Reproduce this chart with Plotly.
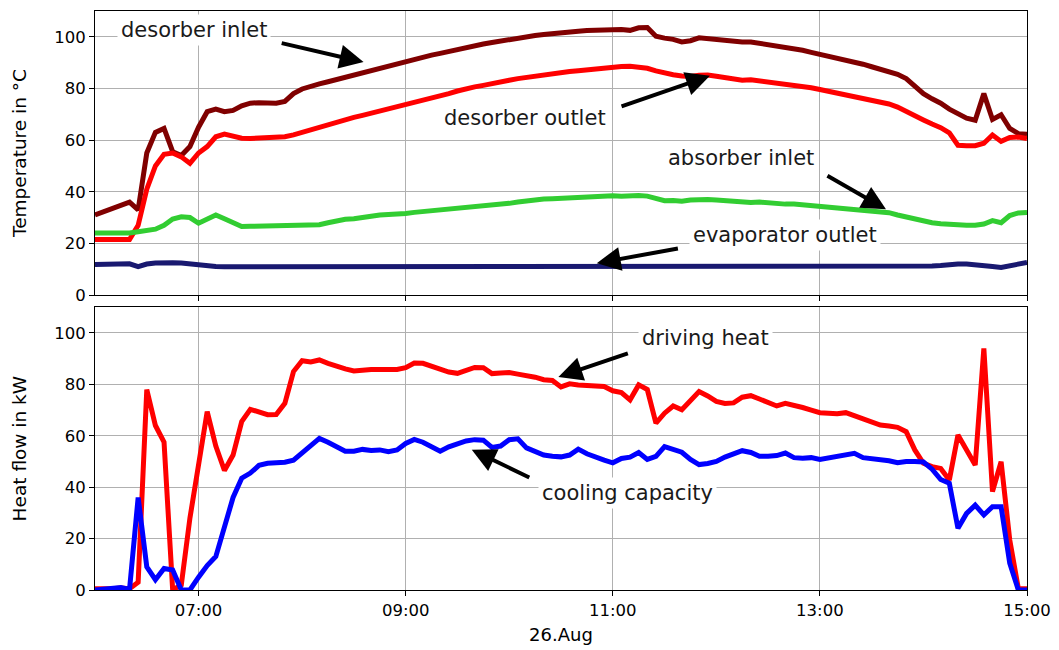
import pandas as pd
import plotly.graph_objects as go
from plotly.subplots import make_subplots

# ---- data (5-minute samples from 06:00 to 15:00 on 26 Aug) ----
times = pd.date_range("2019-08-26 06:00", "2019-08-26 15:00", freq="5min")

desorber_inlet = [
    31, 32.2, 33.5, 34.8, 36, 33, 55, 63, 64.5, 55.5,
    54, 57.5, 65, 71, 72, 71, 71.5, 73.3, 74.3, 74.5,
    74.3, 74.3, 75, 78, 79.8, 81, 81.8, 82.6, 83.5, 84.4,
    85.3, 86.2, 87.1, 88, 88.8, 89.6, 90.3, 91.3, 92.2, 92.9,
    93.6, 94.4, 95.2, 96, 96.6, 97.2, 97.8, 98.4, 99, 99.5,
    100, 100.5, 100.9, 101.3, 101.6, 101.9, 102.2, 102.4, 102.6, 102.8,
    103, 102.8, 102.5, 103.5, 103.6, 100.2, 99.5, 99, 98, 98.5,
    99.6, 99.3, 98.8, 98.3, 98.1, 98, 98, 97.5, 96.8, 96.2,
    95.8, 95.3, 94.8, 94, 93.3, 92.6, 91.9, 91.1, 90.3, 89.4,
    88.4, 87.4, 86.5, 85.5, 83.8, 81, 78, 76, 74.3, 72,
    70, 68.5, 67.7, 78, 68, 69.8, 64.5, 62.5, 62.3,
]
desorber_outlet = [
    21.5, 21.5, 21.5, 21.5, 21.5, 27, 41, 50, 54.5, 55,
    53.5, 51, 55, 57.5, 61.3, 62.3, 61.5, 60.7, 60.6, 60.8,
    60.9, 61, 61.3, 62, 63, 64, 65, 66, 67.2, 68,
    68.8, 69.6, 70.4, 71.3, 72.2, 73, 74, 74.8, 75.4, 76,
    77, 78, 79, 80, 80.6, 81.2, 82, 82.6, 83.2, 83.8,
    84.3, 84.9, 85.3, 85.7, 86.2, 86.6, 86.9, 87.3, 87.7, 88,
    88.4, 88.5, 88.6, 88.3, 87.8, 86.8, 85.8, 85.3, 84.8, 84.6,
    85.1, 85.2, 84.7, 84.2, 83.7, 83.2, 83.4, 83, 82.5, 82,
    81.7, 81.2, 80.8, 80.3, 79.6, 78.9, 78.3, 77.6, 77, 76.3,
    75.6, 74.8, 74, 72.8, 71.3, 69.6, 67.8, 66.2, 64.8, 62.8,
    58, 57.8, 57.8, 58.8, 62, 59.5, 61, 61.2, 60.6,
]
absorber_inlet = [
    24, 24, 24, 24, 24, 24.5, 25, 25.5, 27, 29.4,
    30.3, 30, 27.8, 29.3, 31, 29.5, 27.8, 26.5, 26.6, 26.7,
    26.7, 26.6, 26.7, 26.8, 26.9, 27, 27.2, 28, 28.8, 29.3,
    29.5, 29.8, 30.5, 31, 31.1, 31.3, 31.6, 32, 32.3, 32.8,
    33.2, 33.4, 33.5, 33.7, 34, 34.6, 34.6, 35.2, 35.5, 36,
    36.5, 36.9, 37.2, 37.3, 37.5, 37.6, 37.9, 38, 38.2, 38.3,
    38.4, 38.2, 38.5, 38.5, 38.3, 37.3, 36.5, 36.6, 36.3, 36.8,
    37.1, 37, 36.8, 36.5, 36.1, 35.8, 35.8, 36, 35.6, 35.3,
    35.2, 35.2, 34.9, 34.5, 34.1, 33.8, 33.5, 33.3, 33.1, 33,
    32.7, 32.2, 31.9, 31, 30.3, 29.3, 28.5, 28, 27.6, 27.3,
    27.1, 27, 27, 27.5, 28.8, 28, 30.8, 31.8, 32,
]
evaporator_outlet = [
    11.8, 11.9, 12, 12.1, 12.1, 11, 12, 12.4, 12.6, 12.5,
    12.4, 12, 11.5, 11.2, 11, 10.9, 10.9, 11, 11, 11,
    11.1, 11.1, 11.2, 11.2, 11.2, 11.1, 11.1, 11, 11, 11,
    11, 11, 11, 11, 11, 11, 11, 11, 11, 11,
    11, 11, 11, 11, 11, 11, 11, 11, 11, 11,
    11, 11, 11, 11, 11, 11, 11, 11, 11, 11,
    11, 11, 11, 10.9, 10.9, 10.8, 10.8, 10.8, 10.9, 10.9,
    10.9, 10.9, 11, 11, 11, 11, 11, 11, 11, 11,
    11, 11, 11, 11, 11, 11, 11, 11, 11, 11,
    11, 11, 11, 11, 11, 11, 11.1, 11.2, 11.4, 11.8,
    12, 12, 11.8, 11.5, 11, 10.7, 11.3, 12, 12.6,
]
driving_heat = [
    0.5, 0.3, 0.5, 0.8, 0.5, 3, 78, 64, 57.5, 0,
    2, 28, 50, 69.4, 56, 46.5, 52.5, 65.5, 70.3, 69.4,
    68.2, 68.3, 72.6, 85, 89.2, 88.7, 89.5, 88.2, 86.9, 86,
    85.2, 85.6, 85.8, 85.8, 85.6, 85.8, 86.5, 88.3, 88.2, 87,
    85.9, 84.8, 84.3, 85.3, 86.6, 86.5, 84.2, 84.4, 84.6, 84,
    83.5, 82.8, 81.8, 81.5, 79, 80.2, 79.8, 79.6, 79.4, 79.2,
    77.5, 76.8, 74, 79.8, 78, 64.9, 68.8, 71.6, 70.1, 73.5,
    77.2, 75.5, 73.4, 72.6, 72.8, 75, 75.6, 74.3, 72.8, 71.6,
    72.6, 72, 71, 70, 69, 68.8, 68.6, 69, 67.8, 66.1,
    65, 64.2, 63.8, 63.3, 61.6, 54.5, 49.3, 48, 47.3, 42.8,
    60.3, 54.5, 48.6, 94, 38.3, 49.9, 19.5, 0.5, 0.5,
]
cooling_capacity = [
    0, 0.3, 0.5, 1, 0.2, 36, 9, 4, 8.4, 7.8,
    0, 0, 5, 9.5, 13, 24, 36, 43.5, 45.5, 48.5,
    49.3, 49.5, 49.7, 50.5, 53.5, 56.5, 59, 57.5, 55.5, 54,
    54, 54.7, 54.3, 54.5, 53.8, 54.5, 57, 58.6, 57.5, 56,
    54, 55.7, 57, 58, 58.5, 58.3, 55.5, 56, 58.5, 58.8,
    55.3, 54, 52.5, 52, 51.8, 52.5, 54.8, 53, 51.5, 50.5,
    49.5, 51.2, 51.7, 53.5, 50.8, 52, 55.8, 54.8, 53.6, 50.8,
    48.8, 49.2, 50, 51.7, 53, 54.2, 53.5, 52, 52, 52.3,
    53.3, 51.5, 51.3, 51.5, 50.8, 51.3, 52, 52.7, 53.2, 51.5,
    51.2, 50.8, 50.3, 49.5, 50, 50, 49.8, 47, 43, 41.5,
    24, 29.8, 33, 29.2, 32.4, 32.4, 10.4, 0, 0,
]

x_ticks = ["2019-08-26 07:00", "2019-08-26 09:00", "2019-08-26 11:00",
           "2019-08-26 13:00", "2019-08-26 15:00"]
x_range = ["2019-08-26 06:00", "2019-08-26 15:00"]
y_ticks = [0, 20, 40, 60, 80, 100]

# annotations: (text, text_x, text_y, tail_x, tail_y, tip_x, tip_y, row)
labels = [
    ("desorber inlet", "2019-08-26 06:57:36", 102.6,
     "2019-08-26 07:47:18", 97.7, "2019-08-26 08:35:36", 90.2, 1),
    ("desorber outlet", "2019-08-26 10:09:12", 68.4,
     "2019-08-26 11:04:12", 72.9, "2019-08-26 11:56:18", 84.9, 1),
    ("absorber inlet", "2019-08-26 12:14:18", 52.9,
     "2019-08-26 13:03:30", 46.5, "2019-08-26 13:38:18", 33.2, 1),
    ("evaporator outlet", "2019-08-26 12:39:42", 23.2,
     "2019-08-26 11:38:36", 18.1, "2019-08-26 10:50:42", 12.3, 1),
    ("driving heat", "2019-08-26 11:54:00", 98.1,
     "2019-08-26 11:09:36", 92.3, "2019-08-26 10:28:30", 82.9, 2),
    ("cooling capacity", "2019-08-26 11:08:48", 37.7,
     "2019-08-26 10:12:30", 43.5, "2019-08-26 09:38:18", 54.6, 2),
]

FONT = "DejaVu Sans"
fig = make_subplots(rows=2, cols=1, shared_xaxes=True)

lw = 5
fig.add_trace(go.Scatter(x=times, y=desorber_inlet, mode="lines",
                         line=dict(color="#800000", width=lw)), row=1, col=1)
fig.add_trace(go.Scatter(x=times, y=desorber_outlet, mode="lines",
                         line=dict(color="#ff0000", width=lw)), row=1, col=1)
fig.add_trace(go.Scatter(x=times, y=absorber_inlet, mode="lines",
                         line=dict(color="#32cd32", width=lw)), row=1, col=1)
fig.add_trace(go.Scatter(x=times, y=evaporator_outlet, mode="lines",
                         line=dict(color="#191970", width=lw)), row=1, col=1)
fig.add_trace(go.Scatter(x=times, y=driving_heat, mode="lines",
                         line=dict(color="#ff0000", width=lw)), row=2, col=1)
fig.add_trace(go.Scatter(x=times, y=cooling_capacity, mode="lines",
                         line=dict(color="#0000ff", width=lw)), row=2, col=1)

axis_common = dict(showline=True, linecolor="black", linewidth=1, mirror=True,
                   ticks="outside", ticklen=5, tickcolor="black",
                   showgrid=True, gridcolor="#b0b0b0", gridwidth=1,
                   zeroline=False, tickfont=dict(family=FONT, size=16.5, color="black"))

fig.update_xaxes(**axis_common, type="date", range=x_range, tickvals=x_ticks,
                 tickformat="%H:%M")
fig.update_xaxes(showticklabels=False, row=1, col=1)
fig.update_xaxes(title=dict(text="26.Aug", font=dict(family=FONT, size=18, color="black"),
                            standoff=9), row=2, col=1)
fig.update_yaxes(**axis_common, range=[0, 110], tickvals=y_ticks)
fig.update_yaxes(title=dict(text="Temperature in °C", font=dict(family=FONT, size=18.5, color="black"),
                            standoff=22), row=1, col=1)
fig.update_yaxes(title=dict(text="Heat flow in kW", font=dict(family=FONT, size=18.5, color="black"),
                            standoff=22), row=2, col=1)

fig.layout.yaxis.domain = [0.5095, 1.0]
fig.layout.yaxis2.domain = [0.0, 0.4883]

for text, tx, ty, ax, ay, hx, hy, row in labels:
    xr = "x" if row == 1 else "x2"
    yr = "y" if row == 1 else "y2"
    fig.add_annotation(x=hx, y=hy, ax=ax, ay=ay, xref=xr, yref=yr, axref=xr, ayref=yr,
                       text="", showarrow=True, arrowhead=2, arrowsize=1.2,
                       arrowwidth=4, arrowcolor="black", standoff=0, startstandoff=0)
    fig.add_annotation(x=tx, y=ty, xref=xr, yref=yr, text=text, showarrow=False,
                       font=dict(family=FONT, size=21, color="#1a1a1a"),
                       bgcolor="white", borderpad=3)

fig.update_layout(width=1059, height=650, showlegend=False,
                  plot_bgcolor="white", paper_bgcolor="white",
                  margin=dict(l=87, r=40, t=3, b=68),
                  font=dict(family=FONT, color="black"))

fig.write_html("out.html")
